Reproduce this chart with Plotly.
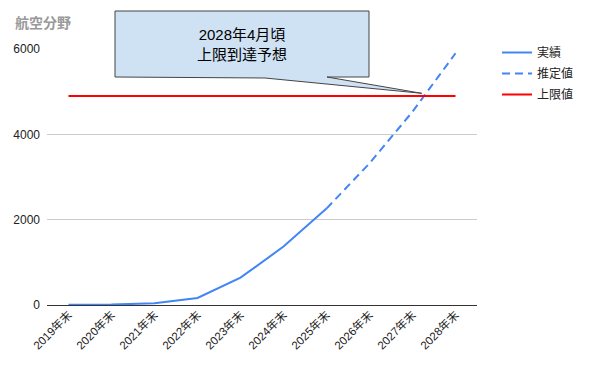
import plotly.graph_objects as go

categories = ["2019年末", "2020年末", "2021年末", "2022年末", "2023年末",
              "2024年末", "2025年末", "2026年末", "2027年末", "2028年末"]
actual = [5, 10, 40, 164, 641, 1369, 2260, None, None, None]
estimate = [None, None, None, None, None, None, 2260, 3320, 4530, 5900]
limit = [4900] * 10
y_ticks = [0, 2000, 4000, 6000]
title_text = "航空分野"
callout_text = "2028年4月頃<br>上限到達予想"

FONT = "Arial, 'Liberation Sans', 'Noto Sans CJK JP', sans-serif"

OFF = 8
W, H = 589, 367
L_ref, R_ref, T_ref, B_ref = 47, 477, 49, 305
L = L_ref - OFF
T = T_ref - OFF
R = W - (R_ref - OFF)
B = H - (B_ref - OFF)
pw, ph = R_ref - L_ref, B_ref - T_ref

def px(x):
    return (x - L_ref) / pw

def py(y):
    return (B_ref - y) / ph

fig = go.Figure()
fig.add_trace(go.Scatter(x=categories, y=actual, name="実績", mode="lines",
                         legendgroup="a",
                         line=dict(color="#4285f4", width=2)))
fig.add_trace(go.Scatter(x=categories, y=estimate, name="推定値", mode="lines",
                         legendgroup="b",
                         line=dict(color="#4285f4", width=2, dash="8px,5px")))
fig.add_trace(go.Scatter(x=categories, y=limit, name="上限値", mode="lines",
                         legendgroup="c",
                         line=dict(color="#ff0000", width=2)))

path = (f"M {px(115)} {py(11)} L {px(369)} {py(11)} L {px(369)} {py(77)} "
        f"L {px(327)} {py(77)} L {px(421.7)} {py(93.3)} L {px(265)} {py(78)} "
        f"L {px(115)} {py(77)} Z")
fig.add_shape(type="path", xref="paper", yref="paper", path=path,
              fillcolor="#cfe2f3", line=dict(color="#444444", width=1))
fig.add_annotation(xref="paper", yref="paper", x=px(242), y=py(44),
                   text=callout_text, showarrow=False,
                   font=dict(size=15, color="#000000", family=FONT),
                   xanchor="center", yanchor="middle")

fig.add_annotation(xref="paper", yref="paper", x=px(13), y=py(23),
                   text=f"<b>{title_text}</b>", showarrow=False,
                   font=dict(size=14, color="#999999", family=FONT),
                   xanchor="left", yanchor="middle")

fig.update_layout(
    width=W, height=H,
    margin=dict(l=L, r=R, t=T, b=B, pad=0, autoexpand=False),
    paper_bgcolor="white", plot_bgcolor="white",
    font=dict(family=FONT, size=11, color="#222222"),
    showlegend=True,
    legend=dict(x=px(497), y=py(38), xanchor="left", yanchor="top",
                font=dict(size=12, color="#222222"), tracegroupgap=2,
                bgcolor="rgba(0,0,0,0)"),
    xaxis=dict(type="category", range=[-0.5, 9.5], showgrid=False,
               tickangle=-45, ticks="", showline=False, zeroline=False,
               automargin=False,
               tickfont=dict(size=11.5, color="#222222")),
    yaxis=dict(range=[0, 6000], tickvals=y_ticks,
               ticktext=[str(v) for v in y_ticks],
               showgrid=True, gridcolor="#cccccc", gridwidth=1,
               zeroline=True, zerolinecolor="#333333", zerolinewidth=1,
               ticks="", showline=False, ticklabelstandoff=6,
               automargin=False,
               tickfont=dict(size=12, color="#222222")),
)

fig.write_html("out.html")
